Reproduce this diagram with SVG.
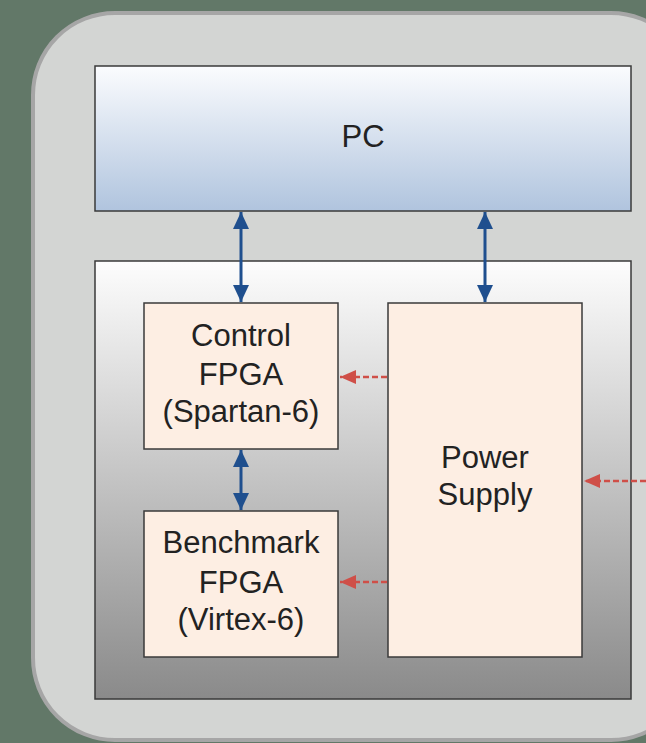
<svg xmlns="http://www.w3.org/2000/svg" width="646" height="743" viewBox="0 0 646 743">
<defs>
<linearGradient id="gPC" x1="0" y1="0" x2="0" y2="1"><stop offset="0" stop-color="#fbfcfe"/><stop offset="1" stop-color="#b0c4de"/></linearGradient>
<linearGradient id="gPanel" x1="0" y1="0" x2="0" y2="1"><stop offset="0" stop-color="#fdfdfd"/><stop offset="1" stop-color="#8a8a8a"/></linearGradient>
<marker id="bh" viewBox="0 0 10 10" refX="10" refY="5" markerWidth="17" markerHeight="16" orient="auto-start-reverse" markerUnits="userSpaceOnUse" preserveAspectRatio="none"><path d="M0,0 L10,5 L0,10 z" fill="#1f4f8e"/></marker>
<marker id="rh" viewBox="0 0 10 10" refX="10" refY="5" markerWidth="16" markerHeight="14" orient="auto" markerUnits="userSpaceOnUse" preserveAspectRatio="none"><path d="M0,0 L10,5 L0,10 z" fill="#cf4f48"/></marker>
<style>
.box{stroke:#3a3a3a;stroke-width:1.5}
.fpga{fill:#fdeee3;stroke:#3a3a3a;stroke-width:1.5}
.t{font-family:"Liberation Sans",Arial,sans-serif;font-size:31px;fill:#222;text-anchor:middle}
.blue{stroke:#1f4f8e;stroke-width:3;fill:none}
.red{stroke:#cf4f48;stroke-width:2.5;fill:none;stroke-dasharray:6,3}
</style>
</defs>
<rect width="646" height="743" fill="#627868"/>
<rect x="33" y="13" width="660" height="727" rx="82" ry="82" fill="#d3d5d3" stroke="#a6a6a6" stroke-width="4"/>
<g id="pc"><rect class="box" x="95" y="66" width="536" height="145" fill="url(#gPC)"/><text class="t" x="363" y="147">PC</text></g>
<g id="board"><rect class="box" x="95" y="261" width="536" height="438" fill="url(#gPanel)"/></g>
<g id="control"><rect class="fpga" x="144" y="303" width="194" height="146"/>
<text class="t" x="241" y="346">Control</text><text class="t" x="241" y="385">FPGA</text><text class="t" x="241" y="422">(Spartan-6)</text></g>
<g id="bench"><rect class="fpga" x="144" y="511" width="194" height="146"/>
<text class="t" x="241" y="553">Benchmark</text><text class="t" x="241" y="593">FPGA</text><text class="t" x="241" y="630">(Virtex-6)</text></g>
<g id="power"><rect class="fpga" x="388" y="303" width="194" height="354"/>
<text class="t" x="485" y="468">Power</text><text class="t" x="485" y="505">Supply</text></g>
<g id="connectors">
<line class="blue" x1="241" y1="212" x2="241" y2="302" marker-start="url(#bh)" marker-end="url(#bh)"/>
<line class="blue" x1="485" y1="212" x2="485" y2="302" marker-start="url(#bh)" marker-end="url(#bh)"/>
<line class="blue" x1="241" y1="450" x2="241" y2="510" marker-start="url(#bh)" marker-end="url(#bh)"/>
<line class="red" x1="387" y1="377" x2="340" y2="377" marker-end="url(#rh)"/>
<line class="red" x1="387" y1="582" x2="340" y2="582" marker-end="url(#rh)"/>
<line class="red" x1="646" y1="481" x2="584" y2="481" marker-end="url(#rh)"/>
</g>
</svg>
